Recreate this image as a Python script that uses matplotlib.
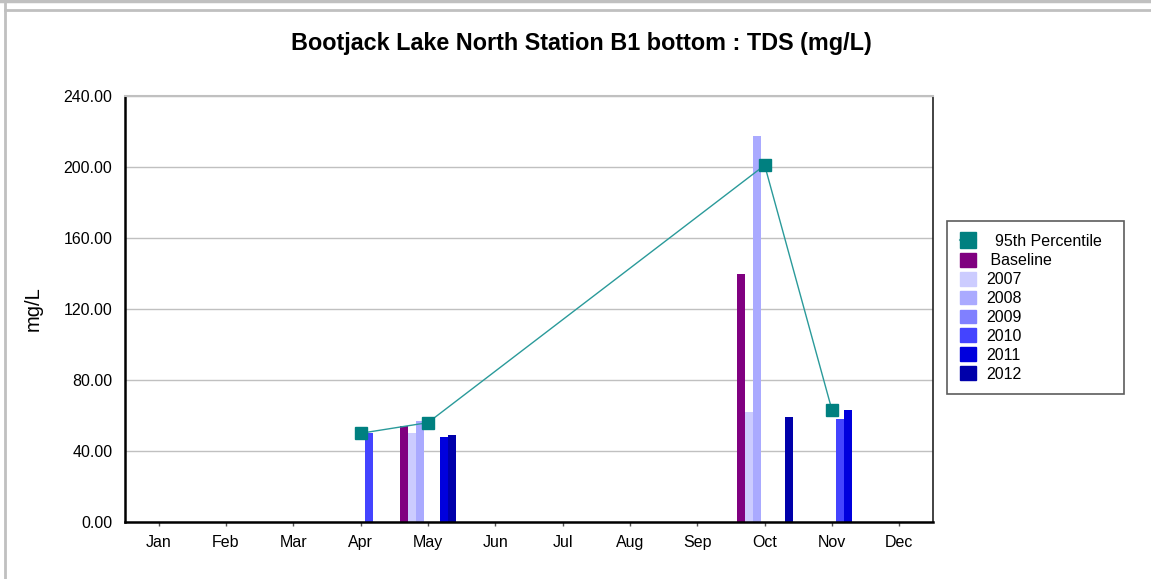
import numpy as np
import matplotlib
matplotlib.use('Agg')
import matplotlib.pyplot as plt
from matplotlib.lines import Line2D
from matplotlib.patches import Patch

plt.rcParams['font.family'] = ['Liberation Sans', 'DejaVu Sans']

# dados
months = ['Jan', 'Feb', 'Mar', 'Apr', 'May', 'Jun', 'Jul', 'Aug', 'Sep', 'Oct', 'Nov', 'Dec']
pct_months = [4, 5, 10, 11]
pct_values = [50, 56, 201, 63]

nan = np.nan
baseline = [nan, nan, nan, nan, 54, nan, nan, nan, nan, 140, nan, nan]
y2007 = [nan, nan, nan, nan, 50, nan, nan, nan, nan, 62, nan, nan]
y2008 = [nan, nan, nan, nan, 57, nan, nan, nan, nan, 217.5, nan, nan]
y2009 = [nan] * 12
y2010 = [nan, nan, nan, 50, nan, nan, nan, nan, nan, nan, 58, nan]
y2011 = [nan, nan, nan, nan, 48, nan, nan, nan, nan, nan, 63, nan]
y2012 = [nan, nan, nan, nan, 49, nan, nan, nan, nan, 59, nan, nan]

series_names = [' Baseline', '2007', '2008', '2009', '2010', '2011', '2012']
series_values = [baseline, y2007, y2008, y2009, y2010, y2011, y2012]
series_colors = ['#800080', '#ccccff', '#aaaaff', '#8080ff', '#4444ff', '#0000dd', '#0000aa']

fig = plt.figure(figsize=(11.51, 5.79), dpi=100)
ax = fig.add_axes([0.1086, 0.0984, 0.7020, 0.7358])

x = np.arange(1, 13)
w = 0.119
for i, (vals, col) in enumerate(zip(series_values, series_colors)):
    ax.bar(x + (i - 3) * w, vals, width=w, color=col, zorder=2)

ax.plot(pct_months, pct_values, color='#2a9a9a', lw=1, zorder=3)
ax.plot(pct_months, pct_values, ls='none', marker='s', ms=8.5,
        color='#008080', zorder=4)

ax.set_xlim(0.5, 12.5)
ax.set_ylim(0, 240)
ax.set_xticks(x)
ax.set_xticklabels(months)
ax.set_yticks(np.arange(0, 241, 40))
ax.set_yticklabels(['%.2f' % v for v in np.arange(0, 241, 40)])
ax.tick_params(axis='x', length=3, width=1, color='#555555', labelsize=11.5, pad=6)
ax.tick_params(axis='y', length=0, labelsize=11.5, pad=9)
ax.yaxis.grid(True, color='#c0c0c0', lw=1, zorder=0)
ax.set_axisbelow(True)

ax.spines['left'].set_linewidth(1.8)
ax.spines['bottom'].set_linewidth(1.8)
ax.spines['top'].set_color('#c0c0c0')
ax.spines['top'].set_linewidth(1.5)
ax.spines['right'].set_linewidth(1.2)
ax.spines['right'].set_color('#222222')

ax.set_ylabel('mg/L', fontsize=14.5, labelpad=15)
fig.text(0.505, 0.925, 'Bootjack Lake North Station B1 bottom : TDS (mg/L)',
         ha='center', va='center', fontsize=16.8, fontweight='bold')

handles = [Line2D([], [], color='#6ab5b5', lw=1.5, marker='s', ms=11,
                  markerfacecolor='#008080', markeredgecolor='#008080')]
labels = ['  95th Percentile  ']
for n, c in zip(series_names, series_colors):
    handles.append(Patch(facecolor=c, edgecolor=c))
    labels.append(n)
leg = fig.legend(handles, labels, loc='upper left', bbox_to_anchor=(0.823, 0.618),
                 fontsize=11.5, frameon=True, fancybox=False, handlelength=1.0,
                 handleheight=0.95, labelspacing=0.22, handletextpad=0.65,
                 borderpad=0.8, borderaxespad=0)
leg.get_frame().set_edgecolor('#333333')
leg.get_frame().set_linewidth(1.2)

# moldura cinza
fig.add_artist(Line2D([0, 1], [0.998, 0.998], color='#c0c0c0', lw=2.5))
fig.add_artist(Line2D([0.0045, 1], [0.983, 0.983], color='#c0c0c0', lw=2))
fig.add_artist(Line2D([0.0045, 0.0045], [0, 1], color='#c0c0c0', lw=2))

fig.savefig('out.png', dpi=100)
